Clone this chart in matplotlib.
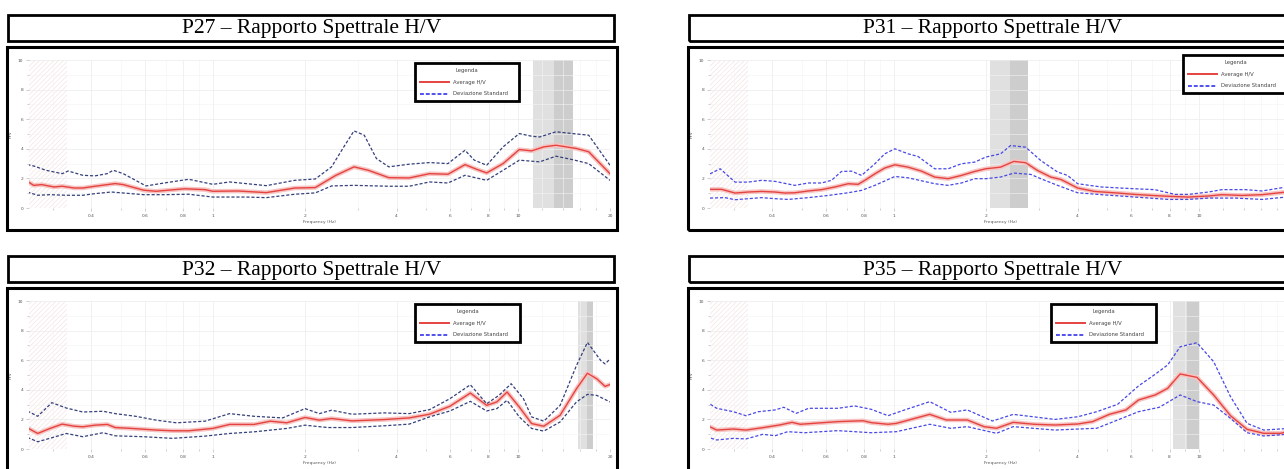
import matplotlib
matplotlib.use("Agg")
import matplotlib.pyplot as plt
from matplotlib.patches import Rectangle
from matplotlib.lines import Line2D
from matplotlib.ticker import FixedLocator, NullFormatter

# ---- P27 ----
p27_f_avg = [0.247, 0.259, 0.275, 0.302, 0.321, 0.352, 0.375, 0.411, 0.479, 0.509, 0.594, 0.652,
             0.809, 0.943, 1.0, 1.207, 1.497, 1.857, 2.166, 2.526, 2.901, 3.229, 3.770, 4.396,
             5.129, 5.891, 6.70, 7.305, 7.89, 8.93, 10.09, 11.07, 12.14, 13.31, 15.53, 17.03, 20.0]
p27_avg = [1.80, 1.53, 1.58, 1.42, 1.47, 1.35, 1.35, 1.47, 1.65, 1.58, 1.20, 1.13,
           1.30, 1.24, 1.13, 1.15, 1.04, 1.35, 1.38, 2.20, 2.78, 2.55, 2.05, 2.03,
           2.32, 2.28, 2.93, 2.62, 2.37, 3.00, 3.95, 3.86, 4.13, 4.24, 4.02, 3.80, 2.32]
p27_f_hi = [0.247, 0.259, 0.284, 0.321, 0.336, 0.375, 0.411, 0.451, 0.472, 0.509, 0.604, 0.693,
            0.834, 1.0, 1.135, 1.497, 1.857, 2.166, 2.449, 2.686, 2.901, 3.133, 3.436, 3.770,
            4.396, 5.129, 5.891, 6.70, 7.19, 7.89, 8.93, 10.09, 11.07, 11.77, 13.31, 15.06, 17.03, 20.0]
p27_hi = [2.93, 2.84, 2.55, 2.32, 2.50, 2.21, 2.17, 2.32, 2.55, 2.32, 1.49, 1.69,
          1.94, 1.60, 1.76, 1.51, 1.87, 1.96, 2.78, 4.13, 5.21, 4.92, 3.34, 2.78,
          2.96, 3.07, 3.00, 3.90, 3.23, 2.89, 4.13, 5.03, 4.85, 4.80, 5.15, 5.03, 4.92, 2.89]
p27_f_lo = [0.247, 0.267, 0.293, 0.331, 0.375, 0.411, 0.465, 0.594, 0.693, 0.834, 1.0, 1.283,
            1.497, 1.857, 2.166, 2.449, 2.901, 3.770, 4.396, 5.129, 5.891, 6.70, 7.89, 8.93,
            10.09, 11.77, 13.31, 15.06, 17.03, 20.0]
p27_lo = [1.08, 0.86, 0.90, 0.86, 0.86, 0.97, 1.08, 0.90, 0.90, 0.93, 0.74, 0.74,
          0.70, 0.93, 1.02, 1.49, 1.53, 1.47, 1.47, 1.76, 1.69, 2.21, 1.87, 2.55,
          3.23, 3.12, 3.50, 3.27, 3.00, 1.87]
p27_peak = [11.2, 13.1, 15.1]

# ---- P31 ----
p31_f_avg = [0.250, 0.273, 0.302, 0.334, 0.369, 0.408, 0.440, 0.474, 0.525, 0.580, 0.641, 0.709,
             0.764, 0.804, 0.867, 0.934, 1.008, 1.114, 1.232, 1.362, 1.506, 1.665, 1.841, 2.0,
             2.237, 2.474, 2.703, 2.953, 3.268, 3.527, 4.0, 4.54, 5.42, 6.15, 6.98, 7.93,
             9.23, 10.73, 11.88, 13.83, 16.09, 19.31]
p31_avg = [1.26, 1.26, 1.01, 1.08, 1.12, 1.08, 1.01, 1.03, 1.15, 1.24, 1.42, 1.64,
           1.60, 1.87, 2.31, 2.70, 2.92, 2.76, 2.49, 2.09, 1.98, 2.20, 2.47, 2.65,
           2.76, 3.15, 3.06, 2.54, 2.09, 1.93, 1.35, 1.12, 1.01, 0.92, 0.85, 0.79,
           0.74, 0.81, 0.90, 0.85, 0.90, 1.08]
p31_f_hi = [0.250, 0.270, 0.302, 0.334, 0.369, 0.408, 0.474, 0.525, 0.580, 0.625, 0.674, 0.727,
            0.784, 0.867, 0.934, 1.008, 1.114, 1.201, 1.362, 1.506, 1.665, 1.841, 2.0,
            2.237, 2.412, 2.703, 3.029, 3.439, 3.709, 4.0, 4.78, 6.15, 7.16, 8.34, 9.23,
            10.73, 11.88, 14.19, 16.09, 19.31]
p31_hi = [2.31, 2.65, 1.75, 1.75, 1.87, 1.80, 1.53, 1.69, 1.69, 1.87, 2.47, 2.49,
          2.20, 2.99, 3.66, 4.00, 3.66, 3.48, 2.65, 2.65, 2.99, 3.10, 3.44,
          3.66, 4.22, 4.11, 3.21, 2.43, 2.20, 1.64, 1.42, 1.30, 1.24, 0.92, 0.92,
          1.08, 1.24, 1.24, 1.15, 1.42]
p31_f_lo = [0.250, 0.280, 0.302, 0.334, 0.369, 0.408, 0.451, 0.525, 0.610, 0.709, 0.784, 0.867,
            1.008, 1.114, 1.362, 1.506, 1.665, 1.841, 2.0, 2.237, 2.474, 2.808, 3.029, 3.439,
            4.0, 4.78, 6.15, 7.93, 9.23, 10.73, 13.15, 16.09, 19.31]
p31_lo = [0.67, 0.70, 0.56, 0.63, 0.70, 0.63, 0.58, 0.70, 0.85, 1.03, 1.19, 1.53,
          2.13, 2.04, 1.64, 1.53, 1.69, 1.98, 1.98, 2.09, 2.36, 2.27, 1.98, 1.53,
          1.03, 0.90, 0.74, 0.58, 0.58, 0.67, 0.67, 0.58, 0.74]
p31_peak = [2.06, 2.40, 2.75]

# ---- P32 ----
p32_f_avg = [0.247, 0.267, 0.293, 0.321, 0.352, 0.375, 0.411, 0.451, 0.479, 0.542, 0.652, 0.738,
             0.834, 1.0, 1.135, 1.365, 1.543, 1.746, 2.005, 2.233, 2.449, 2.857, 3.655, 4.396,
             5.129, 5.98, 6.975, 7.89, 8.52, 9.20, 10.09, 11.07, 12.14, 13.73, 15.53, 16.87,
             18.11, 19.27, 20.0]
p32_avg = [1.43, 1.05, 1.39, 1.68, 1.54, 1.50, 1.61, 1.66, 1.45, 1.39, 1.28, 1.23,
           1.23, 1.39, 1.66, 1.66, 1.88, 1.77, 2.13, 1.95, 2.06, 1.90, 1.99, 2.10,
           2.35, 2.89, 3.78, 2.95, 3.18, 3.85, 2.84, 1.72, 1.54, 2.28, 4.07, 5.12,
           4.74, 4.23, 4.36]
p32_f_hi = [0.247, 0.267, 0.297, 0.331, 0.375, 0.437, 0.479, 0.559, 0.652, 0.760, 0.943, 1.135,
            1.365, 1.693, 2.005, 2.233, 2.449, 2.857, 3.655, 4.396, 5.129, 5.98, 6.975, 7.89,
            8.65, 9.49, 10.41, 11.07, 12.14, 13.73, 15.53, 16.87, 18.67, 19.27, 20.0]
p32_hi = [2.57, 2.21, 3.13, 2.77, 2.50, 2.55, 2.39, 2.21, 1.95, 1.77, 1.88, 2.39,
          2.21, 2.10, 2.73, 2.39, 2.62, 2.35, 2.44, 2.39, 2.66, 3.40, 4.34, 3.06,
          3.62, 4.41, 3.40, 2.17, 1.88, 2.95, 5.64, 7.20, 5.97, 5.75, 6.08]
p32_f_lo = [0.247, 0.267, 0.297, 0.331, 0.375, 0.437, 0.479, 0.594, 0.738, 0.943, 1.135, 1.365,
            1.746, 2.005, 2.376, 2.857, 3.655, 4.396, 5.129, 5.98, 6.975, 7.89, 8.52, 9.20,
            10.09, 11.07, 12.14, 13.73, 15.53, 16.87, 18.11, 20.0]
p32_lo = [0.78, 0.49, 0.76, 1.05, 0.83, 1.10, 0.89, 0.83, 0.72, 0.87, 1.05, 1.16,
          1.39, 1.61, 1.45, 1.45, 1.57, 1.68, 2.17, 2.57, 3.22, 2.57, 2.73, 3.29,
          2.17, 1.39, 1.21, 1.83, 3.18, 3.69, 3.62, 3.18]
p32_peak = [15.7, 16.8, 17.6]

# ---- P35 ----
p35_f_avg = [0.243, 0.263, 0.298, 0.328, 0.372, 0.422, 0.464, 0.494, 0.543, 0.656, 0.792, 0.844,
             0.957, 1.019, 1.12, 1.311, 1.486, 1.741, 1.975, 2.170, 2.461, 2.882, 3.373, 4.01,
             4.48, 5.08, 5.76, 6.33, 7.18, 7.89, 8.67, 9.84, 11.16, 12.67, 14.36, 16.29,
             18.48, 20.0]
p35_avg = [1.62, 1.28, 1.35, 1.28, 1.44, 1.62, 1.80, 1.67, 1.73, 1.85, 1.91, 1.78,
           1.67, 1.73, 1.96, 2.34, 1.96, 1.96, 1.51, 1.40, 1.80, 1.67, 1.62, 1.69,
           1.85, 2.34, 2.64, 3.31, 3.65, 4.10, 5.07, 4.84, 3.65, 2.25, 1.33, 1.06,
           1.06, 1.22]
p35_f_hi = [0.243, 0.263, 0.298, 0.328, 0.360, 0.409, 0.436, 0.479, 0.526, 0.656, 0.744, 0.844,
            0.957, 1.085, 1.311, 1.535, 1.741, 2.103, 2.461, 3.373, 4.01, 4.62, 5.41, 6.33,
            7.18, 7.89, 8.67, 9.84, 11.16, 12.67, 14.36, 16.29, 20.0]
p35_hi = [3.20, 2.75, 2.52, 2.25, 2.52, 2.64, 2.82, 2.41, 2.75, 2.75, 2.91, 2.68,
          2.25, 2.64, 3.20, 2.48, 2.64, 1.89, 2.34, 2.00, 2.18, 2.52, 3.02, 4.26,
          5.05, 5.68, 6.91, 7.18, 5.90, 3.54, 1.73, 1.28, 1.40]
p35_f_lo = [0.243, 0.263, 0.298, 0.328, 0.372, 0.409, 0.449, 0.510, 0.656, 0.844, 1.019, 1.311,
            1.535, 1.741, 2.170, 2.461, 3.373, 4.01, 4.62, 5.41, 6.33, 7.41, 8.67, 9.84,
            11.16, 12.67, 14.36, 16.29, 20.0]
p35_lo = [0.83, 0.61, 0.72, 0.68, 0.99, 0.90, 1.17, 1.10, 1.24, 1.10, 1.17, 1.67,
          1.40, 1.51, 1.06, 1.51, 1.28, 1.35, 1.40, 1.96, 2.52, 2.82, 3.65, 3.20,
          2.97, 2.07, 1.10, 0.88, 1.01]
p35_peak = [8.2, 9.1, 10.0]

titles = ["P27 \u2013 Rapporto Spettrale H/V", "P31 \u2013 Rapporto Spettrale H/V",
          "P32 \u2013 Rapporto Spettrale H/V", "P35 \u2013 Rapporto Spettrale H/V"]
xlim = (0.25, 20)
ylim = (0, 10)
low_cut = 0.333          # hatched low-frequency zone
xtick_major = [0.4, 0.6, 0.8, 1, 2, 4, 6, 8, 10, 20]
xtick_labels = ["0.4", "0.6", "0.8", "1", "2", "4", "6", "8", "10", "20"]
xtick_minor = [0.3, 0.5, 0.7, 0.9, 3, 5, 7, 9, 12, 14, 16, 18]

W, H = 1284, 469
DPI = 100


def fig_rect(x0, y0, x1, y1):
    # pixel box (top-left origin) -> figure fraction [left, bottom, width, height]
    return [x0 / W, 1 - y1 / H, (x1 - x0) / W, (y1 - y0) / H]


RED = "#e5433f"
HALO = "#f6c4c2"
LEG_BLUE = "#5050f0"

panels = [
    dict(title=titles[0], left=7, top=15, legend=(415, 63, 519, 103), std_color="#34407a",
         fa=p27_f_avg, a=p27_avg, fh=p27_f_hi, h=p27_hi, fl=p27_f_lo, l=p27_lo, peak=p27_peak),
    dict(title=titles[1], left=688, top=15, legend=(1183, 55, 1288, 96), std_color="#4848e6",
         fa=p31_f_avg, a=p31_avg, fh=p31_f_hi, h=p31_hi, fl=p31_f_lo, l=p31_lo, peak=p31_peak),
    dict(title=titles[2], left=7, top=256, legend=(415, 304, 520, 344), std_color="#34407a",
         fa=p32_f_avg, a=p32_avg, fh=p32_f_hi, h=p32_hi, fl=p32_f_lo, l=p32_lo, peak=p32_peak),
    dict(title=titles[3], left=688, top=256, legend=(1051, 304, 1156, 344), std_color="#4848e6",
         fa=p35_f_avg, a=p35_avg, fh=p35_f_hi, h=p35_hi, fl=p35_f_lo, l=p35_lo, peak=p35_peak),
]

fig = plt.figure(figsize=(W / DPI, H / DPI), dpi=DPI)
fig.patch.set_facecolor("white")

for p in panels:
    x0, t0 = p["left"], p["top"]

    # title box
    tb = fig_rect(x0 + 1, t0, x0 + 607, t0 + 26)
    fig.add_artist(Rectangle((tb[0], tb[1]), tb[2], tb[3], transform=fig.transFigure,
                             fill=False, ec="black", lw=2.0))
    fig.text((x0 + 305) / W, 1 - (t0 + 14) / H, p["title"], ha="center", va="center",
             fontfamily="Liberation Serif", fontsize=15.5)

    # chart frame
    fx = fig_rect(x0, t0 + 32, x0 + 610, t0 + 215)
    fig.add_artist(Rectangle((fx[0], fx[1]), fx[2], fx[3], transform=fig.transFigure,
                             fill=False, ec="black", lw=2.2, zorder=5))

    ax = fig.add_axes(fig_rect(x0 + 22, t0 + 45, x0 + 603, t0 + 193))
    ax.set_xscale("log")
    ax.set_xlim(*xlim)
    ax.set_ylim(*ylim)

    # hatched zone below the usable frequency range
    plt.rcParams["hatch.linewidth"] = 0.5
    ax.axvspan(xlim[0], low_cut, facecolor="none", edgecolor="#f5e4e4", hatch="///////", lw=0, zorder=0)

    # peak frequency interval
    ax.axvspan(p["peak"][0], p["peak"][1], color="#e0e0e0", lw=0, zorder=0.5)
    ax.axvspan(p["peak"][1], p["peak"][2], color="#cdcdcd", lw=0, zorder=0.5)

    ax.plot(p["fa"], p["a"], color=HALO, lw=3.2, solid_capstyle="round", zorder=2)
    ax.plot(p["fa"], p["a"], color=RED, lw=1.0, zorder=3)
    ax.plot(p["fh"], p["h"], color=p["std_color"], lw=0.9, ls=(0, (2.5, 1.5)), zorder=3)
    ax.plot(p["fl"], p["l"], color=p["std_color"], lw=0.9, ls=(0, (2.5, 1.5)), zorder=3)

    ax.xaxis.set_major_locator(FixedLocator(xtick_major))
    ax.set_xticklabels(xtick_labels)
    ax.xaxis.set_minor_locator(FixedLocator(xtick_minor))
    ax.xaxis.set_minor_formatter(NullFormatter())
    ax.set_yticks([0, 2, 4, 6, 8, 10])
    ax.set_yticks([1, 3, 5, 7, 9], minor=True)
    ax.grid(True, which="major", color="#ececec", lw=0.5)
    ax.grid(True, which="minor", color="#f4f4f4", lw=0.4)
    ax.set_axisbelow(True)
    for s in ax.spines.values():
        s.set_visible(False)
    ax.tick_params(which="both", length=2, width=0.4, color="#aaaaaa",
                   labelsize=3.2, labelcolor="#555555", pad=2)
    ax.tick_params(which="minor", length=1.2)
    ax.set_xlabel("Frequency (Hz)", fontsize=3.2, color="#555555", labelpad=1.5)
    ax.set_ylabel("H/V", fontsize=3.2, color="#555555", labelpad=4)

    handles = [Line2D([], [], color=RED, lw=1.4),
               Line2D([], [], color=LEG_BLUE, lw=1.4, ls=(0, (2, 1)))]
    lx0, ly0, lx1, ly1 = p["legend"]
    leg = ax.legend(handles, ["Average H/V", "Deviazione Standard"], title="Legenda",
                    loc="upper left", bbox_to_anchor=fig_rect(lx0, ly0, lx1, ly1),
                    bbox_transform=fig.transFigure, mode="expand",
                    fontsize=3.8, title_fontsize=3.8, fancybox=False, framealpha=1,
                    edgecolor="black", handlelength=5.5, handletextpad=0.8,
                    labelspacing=1.3, borderpad=0.9, borderaxespad=0)
    leg.get_frame().set_linewidth(2.0)
    for t in leg.get_texts():
        t.set_color("#444444")
    leg.get_title().set_color("#444444")

fig.savefig("out.png", dpi=DPI)
